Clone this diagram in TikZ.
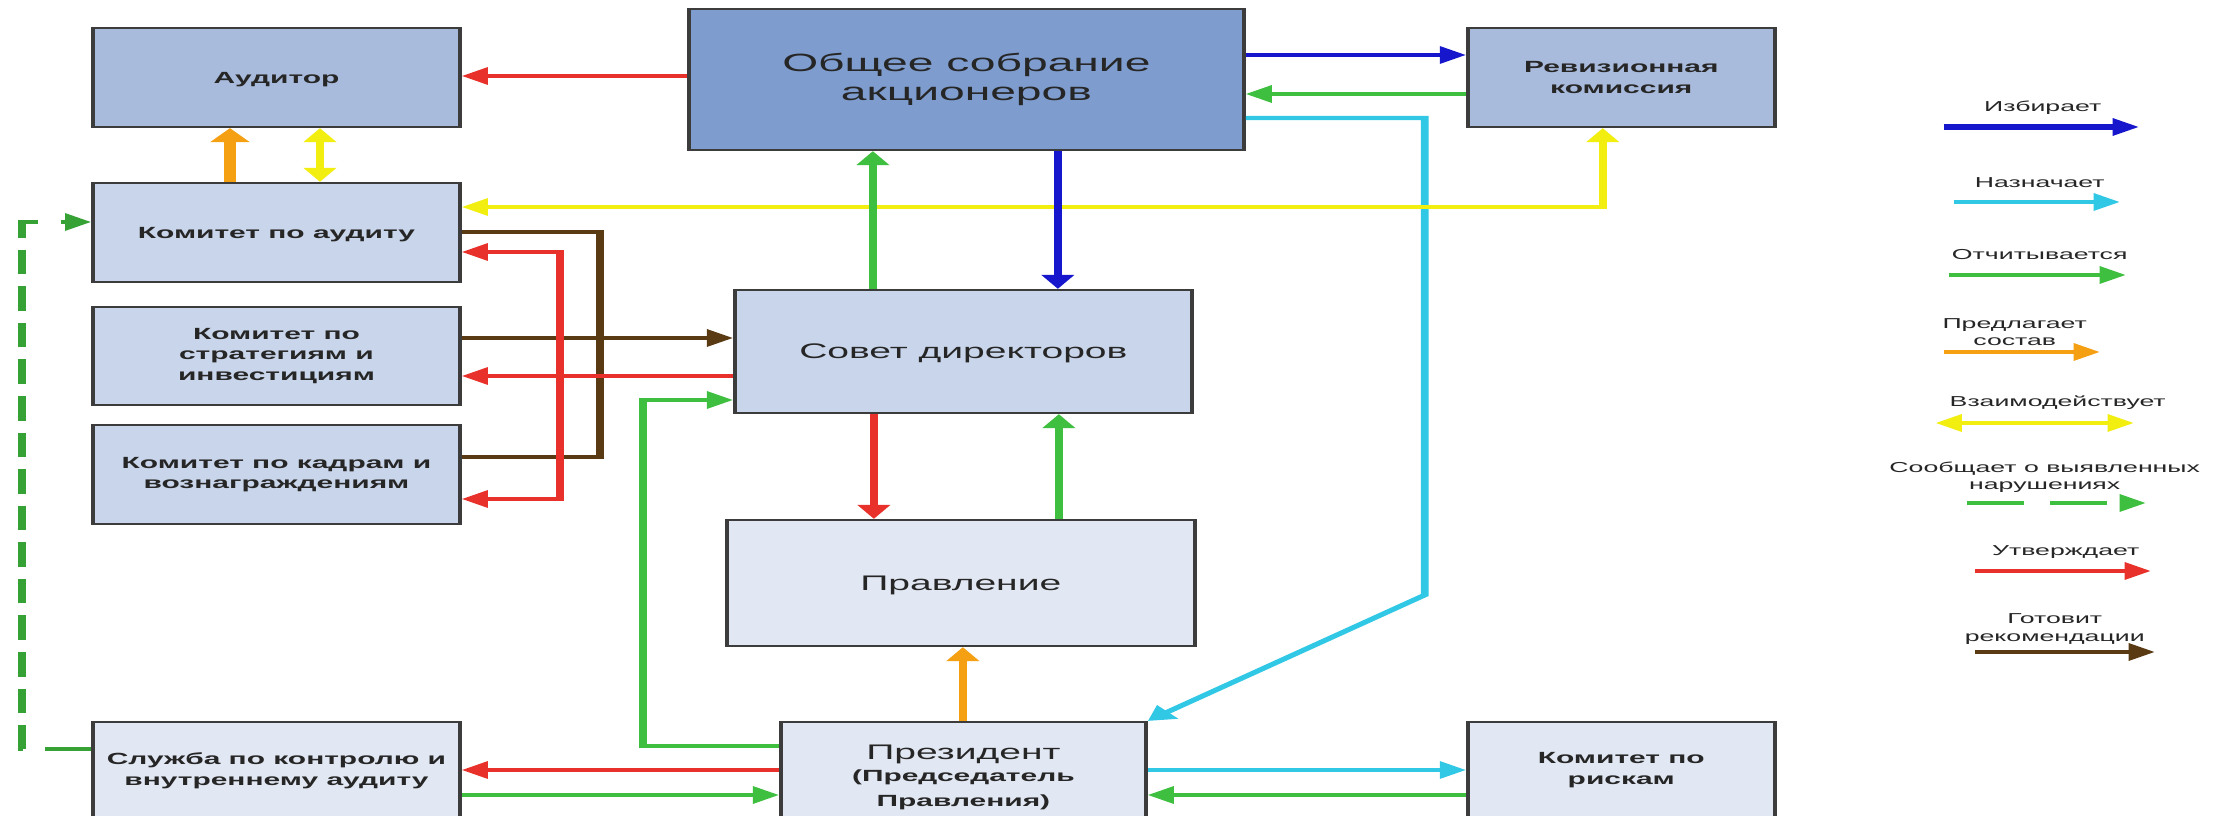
\documentclass[tikz,border=0pt]{standalone}
\usepackage{fontspec}
\setmainfont{Liberation Sans}
\usetikzlibrary{arrows.meta}
\definecolor{cred}{HTML}{E8312A}
\definecolor{cgreen}{HTML}{3FBF3F}
\definecolor{cblue}{HTML}{1616CC}
\definecolor{ccyan}{HTML}{30C8E4}
\definecolor{corange}{HTML}{F4A012}
\definecolor{cyellow}{HTML}{F2EE10}
\definecolor{cbrown}{HTML}{5A3A12}
\definecolor{boxline}{HTML}{3C3C3C}
\definecolor{ftext}{HTML}{262626}
\definecolor{fosa}{HTML}{7E9CCD}
\definecolor{fmedium}{HTML}{A9BBDC}
\definecolor{flight}{HTML}{C9D5EA}
\definecolor{fpale}{HTML}{E2E8F3}
\newcommand\FBig{\fontsize{7.1}{8.2}\selectfont}
\newcommand\FMid{\fontsize{6}{7}\selectfont}
\newcommand\FSm{\fontsize{4.6}{5.9}\selectfont\bfseries}
\newcommand\FLeg{\fontsize{4.1}{4.9}\selectfont}
\tikzset{
  box/.style={draw=boxline, line width=0.6pt, inner sep=0pt, align=center, text=ftext, font=\FSm},
  one/.style={text depth=0pt},
  bx/.style n args={2}{minimum width={#1*0.0054054cm}, minimum height={#2*0.01cm}},
  con/.style={line width=1.2pt, -{Triangle[length=4pt,width=4.8pt]}},
  dbl/.style={line width=1.2pt, {Triangle[length=4pt,width=4.8pt]}-{Triangle[length=4pt,width=4.8pt]}},
  bus/.style={line width=1.2pt},
  leg/.style={align=center, text=ftext, font=\FLeg, inner sep=0pt},
}
\begin{document}
\begin{tikzpicture}[x=0.01cm,y=-0.01cm]
\fill[white] (0,0) rectangle (2216,816);
\useasboundingbox (0,0) rectangle (2216,816);
\begin{scope}
\clip (0,0) rectangle (2216,816);
\begin{scope}[transform canvas={xscale=1.85}, x=0.0054054cm]
% boxes
\node[box, fill=fosa, font=\FBig, bx={555}{141}] (osa) at (966.5,79.5) {Общее собрание\\акционеров};
\node[box, one, fill=fmedium, bx={367}{99}] (aud) at (276.5,77.5) {Аудитор};
\node[box, fill=fmedium, bx={307}{99}] (rev) at (1621.5,77.5) {Ревизионная\\комиссия};
\node[box, one, fill=flight, bx={367}{99}] (kaud) at (276.5,232.5) {Комитет по аудиту};
\node[box, fill=flight, bx={367}{98}] (kstr) at (276.5,356) {Комитет по\\стратегиям и\\инвестициям};
\node[box, fill=flight, bx={367}{99}] (kkad) at (276.5,474.5) {Комитет по кадрам и\\вознаграждениям};
\node[box, one, fill=flight, font=\FMid, bx={457}{123}] (sd) at (963.5,351.5) {Совет директоров};
\node[box, one, fill=fpale, font=\FMid, bx={468}{126}] (prav) at (961,583) {Правление};
\node[box, fill=fpale, font=\FMid, bx={365}{110}] (pres) at (963.5,777) {Президент\\[-0.6pt]{\FSm (Председатель}\\{\FSm Правления)}};
\node[box, fill=fpale, bx={367}{98}] (sluz) at (276.5,771) {Служба по контролю и\\внутреннему аудиту};
\node[box, fill=fpale, bx={307}{96}] (risk) at (1621.5,770) {Комитет по\\рискам};
% connectors
\draw[con, cred] (osa.west |- 0,76) -- (aud.east |- 0,76);
\draw[con, cblue] (osa.east |- 0,55) -- (rev.west |- 0,55);
\draw[con, cgreen] (rev.west |- 0,94) -- (osa.east |- 0,94);
\coordinate (cyb) at (1425,595);
\draw[con, ccyan] (osa.east |- 0,118) -| (cyb) -- (pres.north east);
\draw[line width=1.8pt, corange, -{Triangle[length=4pt,width=5.8pt]}] (kaud.north -| 230,0) -- (aud.south -| 230,0);
\draw[dbl, cyellow] (kaud.north -| 320,0) -- (aud.south -| 320,0);
\draw[dbl, cyellow] (rev.south -| 1603,0) |- (kaud.east |- 0,207);
\coordinate (brb) at (600,457);
\draw[bus, cbrown] (kaud.east |- 0,232) -| (brb) -- (kkad.east |- 0,457);
\draw[con, cbrown] (kstr.east |- 0,338) -- (sd.west |- 0,338);
\draw[con, cred] (sd.west |- 0,376) -- (kstr.east |- 0,376);
\coordinate (rb) at (560,376);
\draw[con, cred] (rb) |- (kaud.east |- 0,252);
\draw[con, cred] (rb) |- (kkad.east |- 0,499);
\coordinate (gb) at (643,400);
\draw[con, cgreen] (pres.west |- 0,746) -| (gb) -- (sd.west |- 0,400);
\draw[con, cgreen] (sd.north -| 873,0) -- (osa.south -| 873,0);
\draw[con, cblue] (osa.south -| 1058,0) -- (sd.north -| 1058,0);
\draw[con, cred] (sd.south -| 874,0) -- (prav.north -| 874,0);
\draw[con, cgreen] (prav.north -| 1059,0) -- (sd.south -| 1059,0);
\draw[con, corange] (pres.north -| 963,0) -- (prav.south -| 963,0);
\draw[con, cred] (pres.west |- 0,770) -- (sluz.east |- 0,770);
\draw[con, cgreen] (sluz.east |- 0,795) -- (pres.west |- 0,795);
\draw[con, ccyan] (pres.east |- 0,770) -- (risk.west |- 0,770);
\draw[con, cgreen] (risk.west |- 0,795) -- (pres.east |- 0,795);
\coordinate (dg) at (22,222);
\draw[con, cgreen!85!black, dash pattern=on 7pt off 3.4pt] (sluz.west |- 0,749) -| (dg) -- (kaud.west |- 0,222);
% legend
\node[leg] (t1) at (2043,108) {Избирает};
\coordinate (l1a) at (1944,127); \coordinate (l1b) at (2139,127);
\draw[con, cblue, line width=1.6pt] (l1a) -- (l1b);
\node[leg] (t2) at (2040,183) {Назначает};
\coordinate (l2a) at (1954,202); \coordinate (l2b) at (2120,202);
\draw[con, ccyan] (l2a) -- (l2b);
\node[leg] (t3) at (2040,255) {Отчитывается};
\coordinate (l3a) at (1949,275); \coordinate (l3b) at (2126,275);
\draw[con, cgreen] (l3a) -- (l3b);
\node[leg] (t4) at (2015,332) {Предлагает\\состав};
\coordinate (l4a) at (1944,352); \coordinate (l4b) at (2100,352);
\draw[con, corange] (l4a) -- (l4b);
\node[leg] (t5) at (2058,403) {Взаимодействует};
\coordinate (l5a) at (1936,423); \coordinate (l5b) at (2134,423);
\draw[dbl, cyellow] (l5a) -- (l5b);
\node[leg] (t6) at (2045,477) {Сообщает о выявленных\\нарушениях};
\coordinate (l6a) at (1967,503); \coordinate (l6b) at (2146,503);
\draw[con, cgreen, dash pattern=on 8.8pt off 4pt] (l6a) -- (l6b);
\node[leg] (t7) at (2066,552) {Утверждает};
\coordinate (l7a) at (1975,571); \coordinate (l7b) at (2151,571);
\draw[con, cred] (l7a) -- (l7b);
\node[leg] (t8) at (2055,629) {Готовит\\рекомендации};
\coordinate (l8a) at (1975,652); \coordinate (l8b) at (2155,652);
\draw[con, cbrown] (l8a) -- (l8b);
\end{scope}
\end{scope}
\end{tikzpicture}
\end{document}
